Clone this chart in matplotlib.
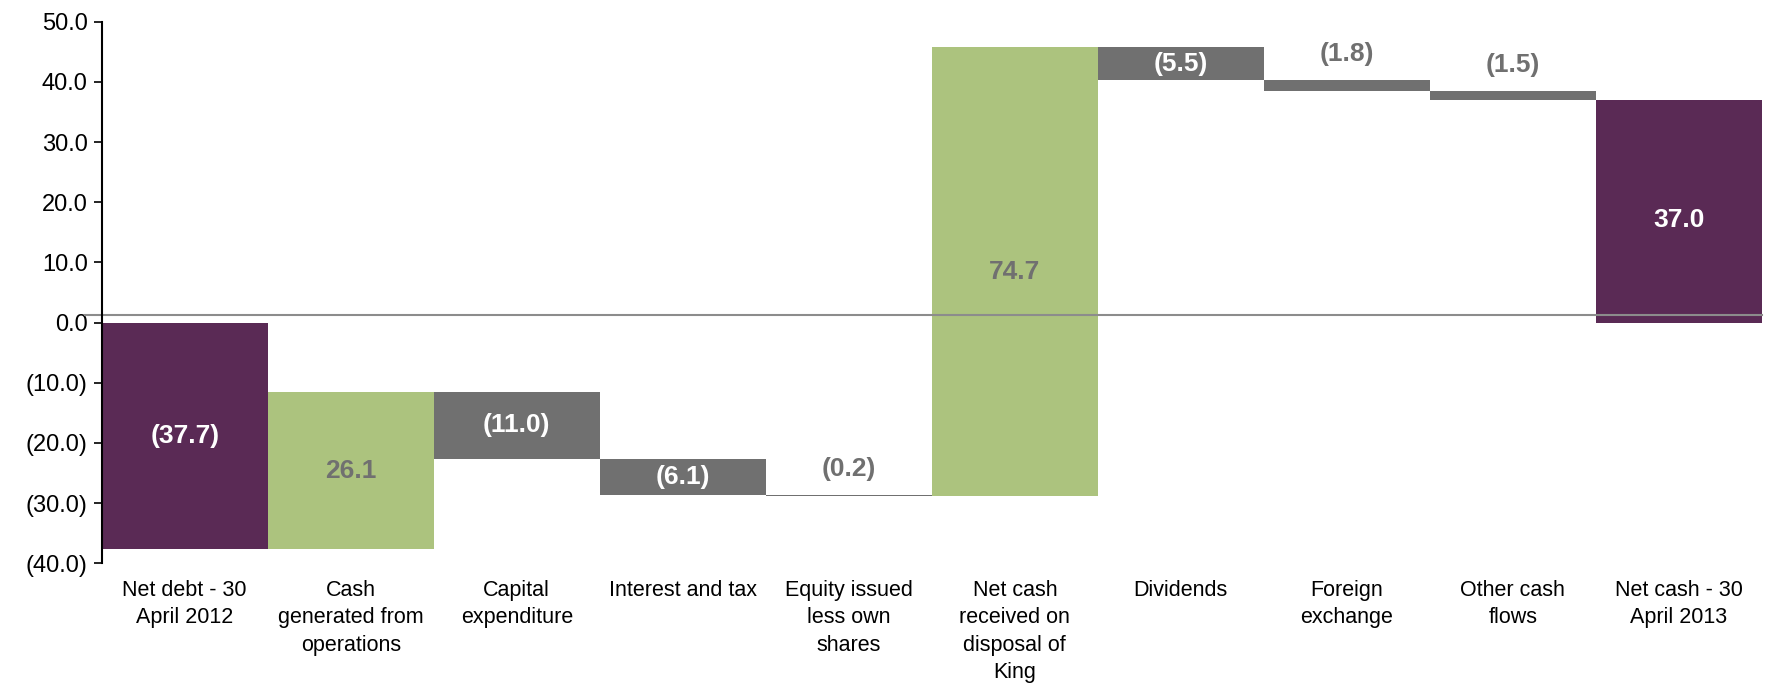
import matplotlib.pyplot as plt
from matplotlib.ticker import FuncFormatter

# data
categories = ["Net debt - 30\nApril 2012", "Cash\ngenerated from\noperations", "Capital\nexpenditure",
              "Interest and tax", "Equity issued\nless own\nshares", "Net cash\nreceived on\ndisposal of\nKing",
              "Dividends", "Foreign\nexchange", "Other cash\nflows", "Net cash - 30\nApril 2013"]
changes = [-37.7, 26.1, -11.0, -6.1, -0.2, 74.7, -5.5, -1.8, -1.5, 37.0]
kinds = ["total", "up", "down", "down", "down", "up", "down", "down", "down", "total"]
label_outside = [False, False, False, False, True, False, False, True, True, False]

PURPLE = "#5a2a55"
GREEN = "#acc37e"
GREY = "#707070"
colors = {"total": PURPLE, "up": GREEN, "down": GREY}
text_colors = {"total": "white", "up": GREY, "down": "white"}

plt.rcParams['font.family'] = ['Liberation Sans Narrow', 'Liberation Sans', 'DejaVu Sans']

fig = plt.figure(figsize=(17.69, 6.85), dpi=100)
ax = fig.add_axes([0.0575, 0.1777, 0.9385, 0.7906])

running = 0.0
for i, (c, k) in enumerate(zip(changes, kinds)):
    if k == "total":
        bottom = 0.0
        height = c
        running = c
    else:
        bottom = running
        height = c
        running += c
    ax.bar(i, height, bottom=bottom, width=1.0, color=colors[k], linewidth=0)
    lo, hi = sorted([bottom, bottom + height])
    txt = f"({abs(c):.1f})" if c < 0 else f"{c:.1f}"
    if label_outside[i]:
        ax.text(i, hi + 4.3, txt, ha="center", va="center", color=GREY,
                fontsize=19, fontweight="bold")
    else:
        y = (lo + hi) / 2
        if i == 9:
            y -= 1.5
        ax.text(i, y, txt, ha="center", va="center", color=text_colors[k],
                fontsize=19, fontweight="bold")

ax.axhline(1.3, color="#8c8c8c", linewidth=1.5, xmin=-0.01, clip_on=False)

ax.set_xlim(-0.5, 9.5)
ax.set_ylim(-40, 50)
ax.set_yticks(range(-40, 51, 10))
ax.yaxis.set_major_formatter(FuncFormatter(lambda v, p: f"({abs(v):.1f})" if v < 0 else f"{v:.1f}"))
for lab in ax.get_yticklabels():
    lab.set_family(['Liberation Sans', 'DejaVu Sans'])
ax.tick_params(axis="y", labelsize=17, length=6, width=1.2, direction="out", pad=4)
ax.set_xticks(range(len(categories)))
ax.set_xticklabels(categories, fontsize=15.5, va="top", linespacing=1.4)
ax.tick_params(axis="x", length=0, pad=12)

for s in ["top", "right", "bottom"]:
    ax.spines[s].set_visible(False)
ax.spines["left"].set_linewidth(1.5)

fig.savefig("out.png", dpi=100)
